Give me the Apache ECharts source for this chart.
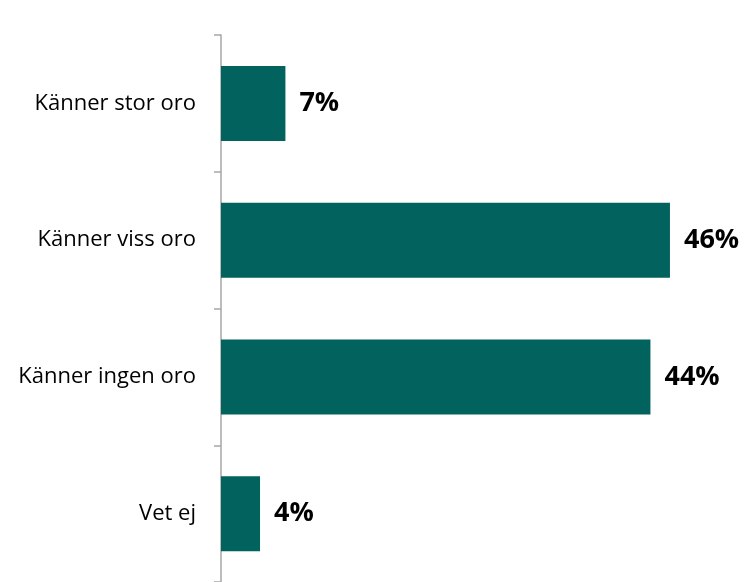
<!DOCTYPE html>
<html>
<head>
<meta charset="utf-8">
<script src="https://cdn.jsdelivr.net/npm/echarts@6/dist/echarts.min.js"></script>
<style>
  html, body { margin: 0; padding: 0; background: #fff; }
  #chart { width: 744px; height: 582px; }
</style>
</head>
<body>
<div id="chart"></div>
<script>
const categories = ['Känner stor oro', 'Känner viss oro', 'Känner ingen oro', 'Vet ej']
const values = [6.6, 46, 44, 4]

const chart = echarts.init(document.getElementById('chart'))
chart.setOption({
  animation: false,
  grid: { left: 221, top: 35, width: 488, height: 549 },
  xAxis: {
    type: 'value',
    min: 0,
    max: 50,
    show: false
  },
  yAxis: {
    type: 'category',
    inverse: true,
    data: categories,
    axisLine: { lineStyle: { color: '#a6a6a6', width: 1.5 } },
    axisTick: { show: true, length: 7, lineStyle: { color: '#a6a6a6', width: 1.5 } },
    axisLabel: {
      margin: 25,
      color: '#000',
      fontFamily: 'Open Sans',
      fontSize: 22
    }
  },
  series: [{
    type: 'bar',
    data: values,
    barWidth: 75,
    itemStyle: { color: '#02625E' },
    label: {
      show: true,
      position: 'right',
      distance: 14,
      color: '#000',
      fontFamily: 'Open Sans',
      fontWeight: 'bold',
      fontSize: 27,
      formatter: p => Math.round(p.value) + '%'
    }
  }]
})
</script>
</body>
</html>
